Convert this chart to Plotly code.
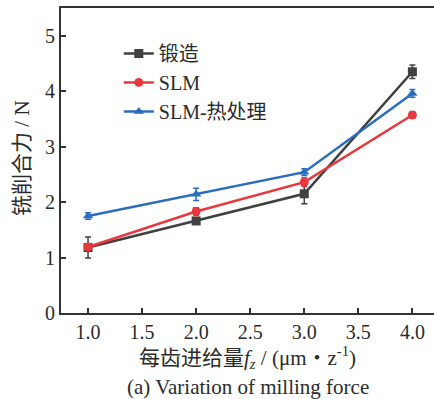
import plotly.graph_objects as go

feed = [1.0, 2.0, 3.0, 4.0]
forged = [1.18, 1.66, 2.15, 4.35]
forged_err = [0.19, 0.04, 0.18, 0.12]
slm = [1.19, 1.83, 2.36, 3.57]
slm_err = [0.06, 0.07, 0.08, 0.06]
slm_ht = [1.75, 2.14, 2.54, 3.96]
slm_ht_err = [0.06, 0.11, 0.06, 0.07]

names = ["锻造", "SLM", "SLM-热处理"]
colors = ["#404040", "#e8383f", "#2a6dbd"]
symbols = ["square", "circle", "triangle-up"]
x_ticks = [1.0, 1.5, 2.0, 2.5, 3.0, 3.5, 4.0]
y_ticks = [0, 1, 2, 3, 4, 5]

FONT = "Liberation Serif, Times New Roman, Noto Sans CJK SC, serif"
TXT = "#2b2b2b"

fig = go.Figure()
for name, ys, err, c, s in zip(names, [forged, slm, slm_ht],
                               [forged_err, slm_err, slm_ht_err], colors, symbols):
    fig.add_trace(go.Scatter(
        x=feed, y=ys, name=name, mode="lines+markers",
        line=dict(color=c, width=2.5),
        marker=dict(symbol=s, size=9, color=c),
        error_y=dict(type="data", array=err, visible=True, color=c,
                     thickness=1.5, width=3),
    ))

fig.update_layout(
    width=434, height=399,
    margin=dict(l=61, r=0, t=8, b=86),
    plot_bgcolor="white", paper_bgcolor="white",
    font=dict(family=FONT, size=20, color=TXT),
    showlegend=True,
    legend=dict(x=0.155, y=0.915, xanchor="left", yanchor="top",
                bgcolor="rgba(0,0,0,0)", font=dict(size=20),
                tracegroupgap=0, itemwidth=30),
    xaxis=dict(range=[0.75, 4.2], tickvals=x_ticks,
               ticktext=[f"{v:.1f}" for v in x_ticks],
               showline=True, linecolor="#333", linewidth=2, mirror=True,
               ticks="inside", ticklen=5, tickwidth=1.5, tickcolor="#333",
               showgrid=False, zeroline=False,
               tickfont=dict(size=20)),
    yaxis=dict(range=[0, 5.5], tickvals=y_ticks,
               showline=True, linecolor="#333", linewidth=2,
               ticks="inside", ticklen=5, tickwidth=1.5, tickcolor="#333",
               showgrid=False, zeroline=False,
               tickfont=dict(size=20)),
)

fig.add_annotation(
    x=0.50, y=-0.145, xref="paper", yref="paper", xanchor="center", yanchor="middle",
    text="每齿进给量<i>f</i><sub><i>z</i></sub> / (μm・z<sup>-1</sup>)",
    showarrow=False, font=dict(size=21, color=TXT, family=FONT),
)
fig.add_annotation(
    x=0.50, y=-0.243, xref="paper", yref="paper", xanchor="center", yanchor="middle",
    text="(a) Variation of milling force",
    showarrow=False, font=dict(size=21, color=TXT, family=FONT),
)
fig.add_annotation(
    x=-0.105, y=0.508, xref="paper", yref="paper", xanchor="center", yanchor="middle",
    text="铣削合力 / N", textangle=-90,
    showarrow=False, font=dict(size=21, color=TXT, family=FONT),
)

fig.write_html("out.html")
